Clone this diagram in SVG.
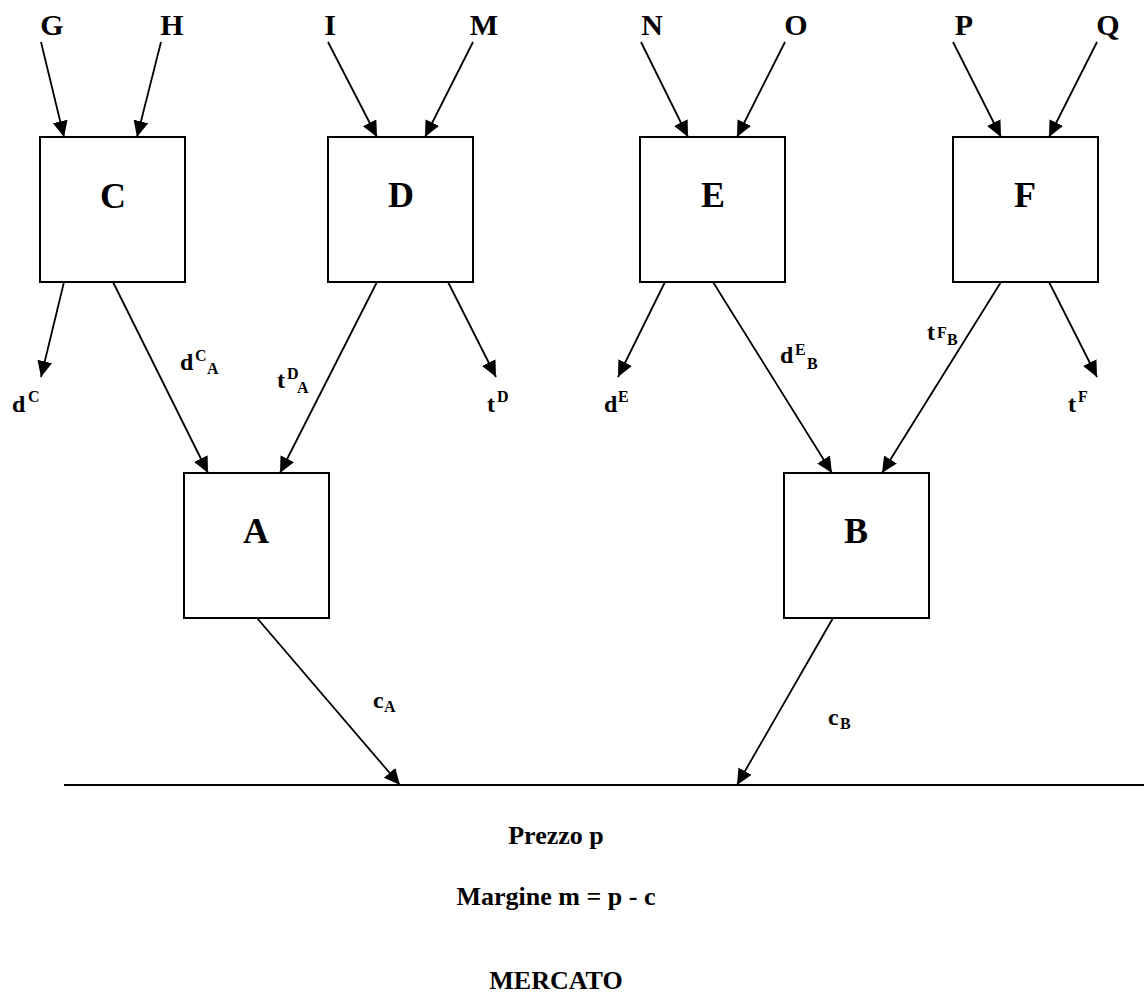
<svg xmlns="http://www.w3.org/2000/svg" width="1144" height="1000" viewBox="0 0 1144 1000">
  <style>
    .box { fill: #fff; stroke: #000; stroke-width: 2; }
    .edge { stroke: #000; stroke-width: 1.8; fill: none; marker-end: url(#arrow); }
    .t { font-family: "Liberation Serif", "Times New Roman", serif; font-weight: bold; fill: #000; }
    .big { font-size: 36px; text-anchor: middle; }
    .src { font-size: 30px; text-anchor: middle; }
    .lab { font-size: 24px; }
    .sm { font-size: 16px; }
    .foot { font-size: 26px; text-anchor: middle; }
  </style>
  <defs>
    <marker id="arrow" markerUnits="userSpaceOnUse" markerWidth="18" markerHeight="16" refX="16" refY="7.5" orient="auto">
      <path d="M0,0 L16,7.5 L0,15 Z" fill="#000"/>
    </marker>
  </defs>
  <rect width="1144" height="1000" fill="#fff"/>

  <!-- input letters -->
  <g id="inputs" class="t src">
    <text x="52" y="35">G</text>
    <text x="172" y="35">H</text>
    <text x="330" y="35">I</text>
    <text x="484" y="35">M</text>
    <text x="652" y="35">N</text>
    <text x="796" y="35">O</text>
    <text x="964" y="35">P</text>
    <text x="1108" y="35">Q</text>
  </g>

  <!-- nodes -->
  <g id="node-C"><rect class="box" x="40" y="137" width="145" height="145"/><text class="t big" x="113" y="208">C</text></g>
  <g id="node-D"><rect class="box" x="328" y="137" width="145" height="145"/><text class="t big" x="401" y="207">D</text></g>
  <g id="node-E"><rect class="box" x="640" y="137" width="145" height="145"/><text class="t big" x="713" y="207">E</text></g>
  <g id="node-F"><rect class="box" x="953" y="137" width="145" height="145"/><text class="t big" x="1025" y="207">F</text></g>
  <g id="node-A"><rect class="box" x="184" y="473" width="145" height="145"/><text class="t big" x="256" y="543">A</text></g>
  <g id="node-B"><rect class="box" x="784" y="473" width="145" height="145"/><text class="t big" x="856" y="543">B</text></g>

  <!-- connectors -->
  <g id="connectors">
    <line class="edge" x1="41" y1="42" x2="64" y2="137"/>
    <line class="edge" x1="161" y1="42" x2="137" y2="137"/>
    <line class="edge" x1="328" y1="42" x2="377" y2="137"/>
    <line class="edge" x1="473" y1="42" x2="425" y2="137"/>
    <line class="edge" x1="641" y1="42" x2="688" y2="137"/>
    <line class="edge" x1="785" y1="42" x2="737" y2="137"/>
    <line class="edge" x1="953" y1="42" x2="1001" y2="137"/>
    <line class="edge" x1="1097" y1="42" x2="1049" y2="137"/>

    <line class="edge" x1="64" y1="282" x2="41" y2="377"/>
    <line class="edge" x1="113" y1="282" x2="208" y2="473"/>
    <line class="edge" x1="377" y1="282" x2="280" y2="473"/>
    <line class="edge" x1="448" y1="282" x2="496" y2="377"/>
    <line class="edge" x1="665" y1="282" x2="618" y2="377"/>
    <line class="edge" x1="713" y1="282" x2="832" y2="473"/>
    <line class="edge" x1="1001" y1="282" x2="882" y2="473"/>
    <line class="edge" x1="1049" y1="282" x2="1097" y2="377"/>

    <line class="edge" x1="257" y1="618" x2="400" y2="785"/>
    <line class="edge" x1="833" y1="618" x2="737" y2="785"/>

    <line x1="64" y1="785" x2="1144" y2="785" stroke="#000" stroke-width="2"/>
  </g>

  <!-- flow labels -->
  <g id="labels" class="t">
    <text class="lab" x="12" y="412">d</text><text class="sm" x="28" y="402">C</text>
    <text class="lab" x="180" y="370">d</text><text class="sm" x="195" y="361">C</text><text class="sm" x="207" y="374">A</text>
    <text class="lab" x="277" y="388">t</text><text class="sm" x="287" y="379">D</text><text class="sm" x="297" y="393">A</text>
    <text class="lab" x="487" y="412">t</text><text class="sm" x="497" y="402">D</text>
    <text class="lab" x="604" y="412">d</text><text class="sm" x="618" y="402">E</text>
    <text class="lab" x="780" y="363">d</text><text class="sm" x="795" y="355">E</text><text class="sm" x="807" y="369">B</text>
    <text class="lab" x="927" y="340">t</text><text class="sm" x="937" y="338">F</text><text class="sm" x="947" y="345">B</text>
    <text class="lab" x="1068" y="412">t</text><text class="sm" x="1078" y="402">F</text>
    <text class="lab" x="373" y="708">c</text><text class="sm" x="384" y="712">A</text>
    <text class="lab" x="828" y="725">c</text><text class="sm" x="840" y="729">B</text>
  </g>

  <!-- market notes -->
  <g id="market" class="t foot">
    <text x="556" y="844">Prezzo p</text>
    <text x="556" y="905">Margine m = p - c</text>
    <text x="556" y="989">MERCATO</text>
  </g>
</svg>
